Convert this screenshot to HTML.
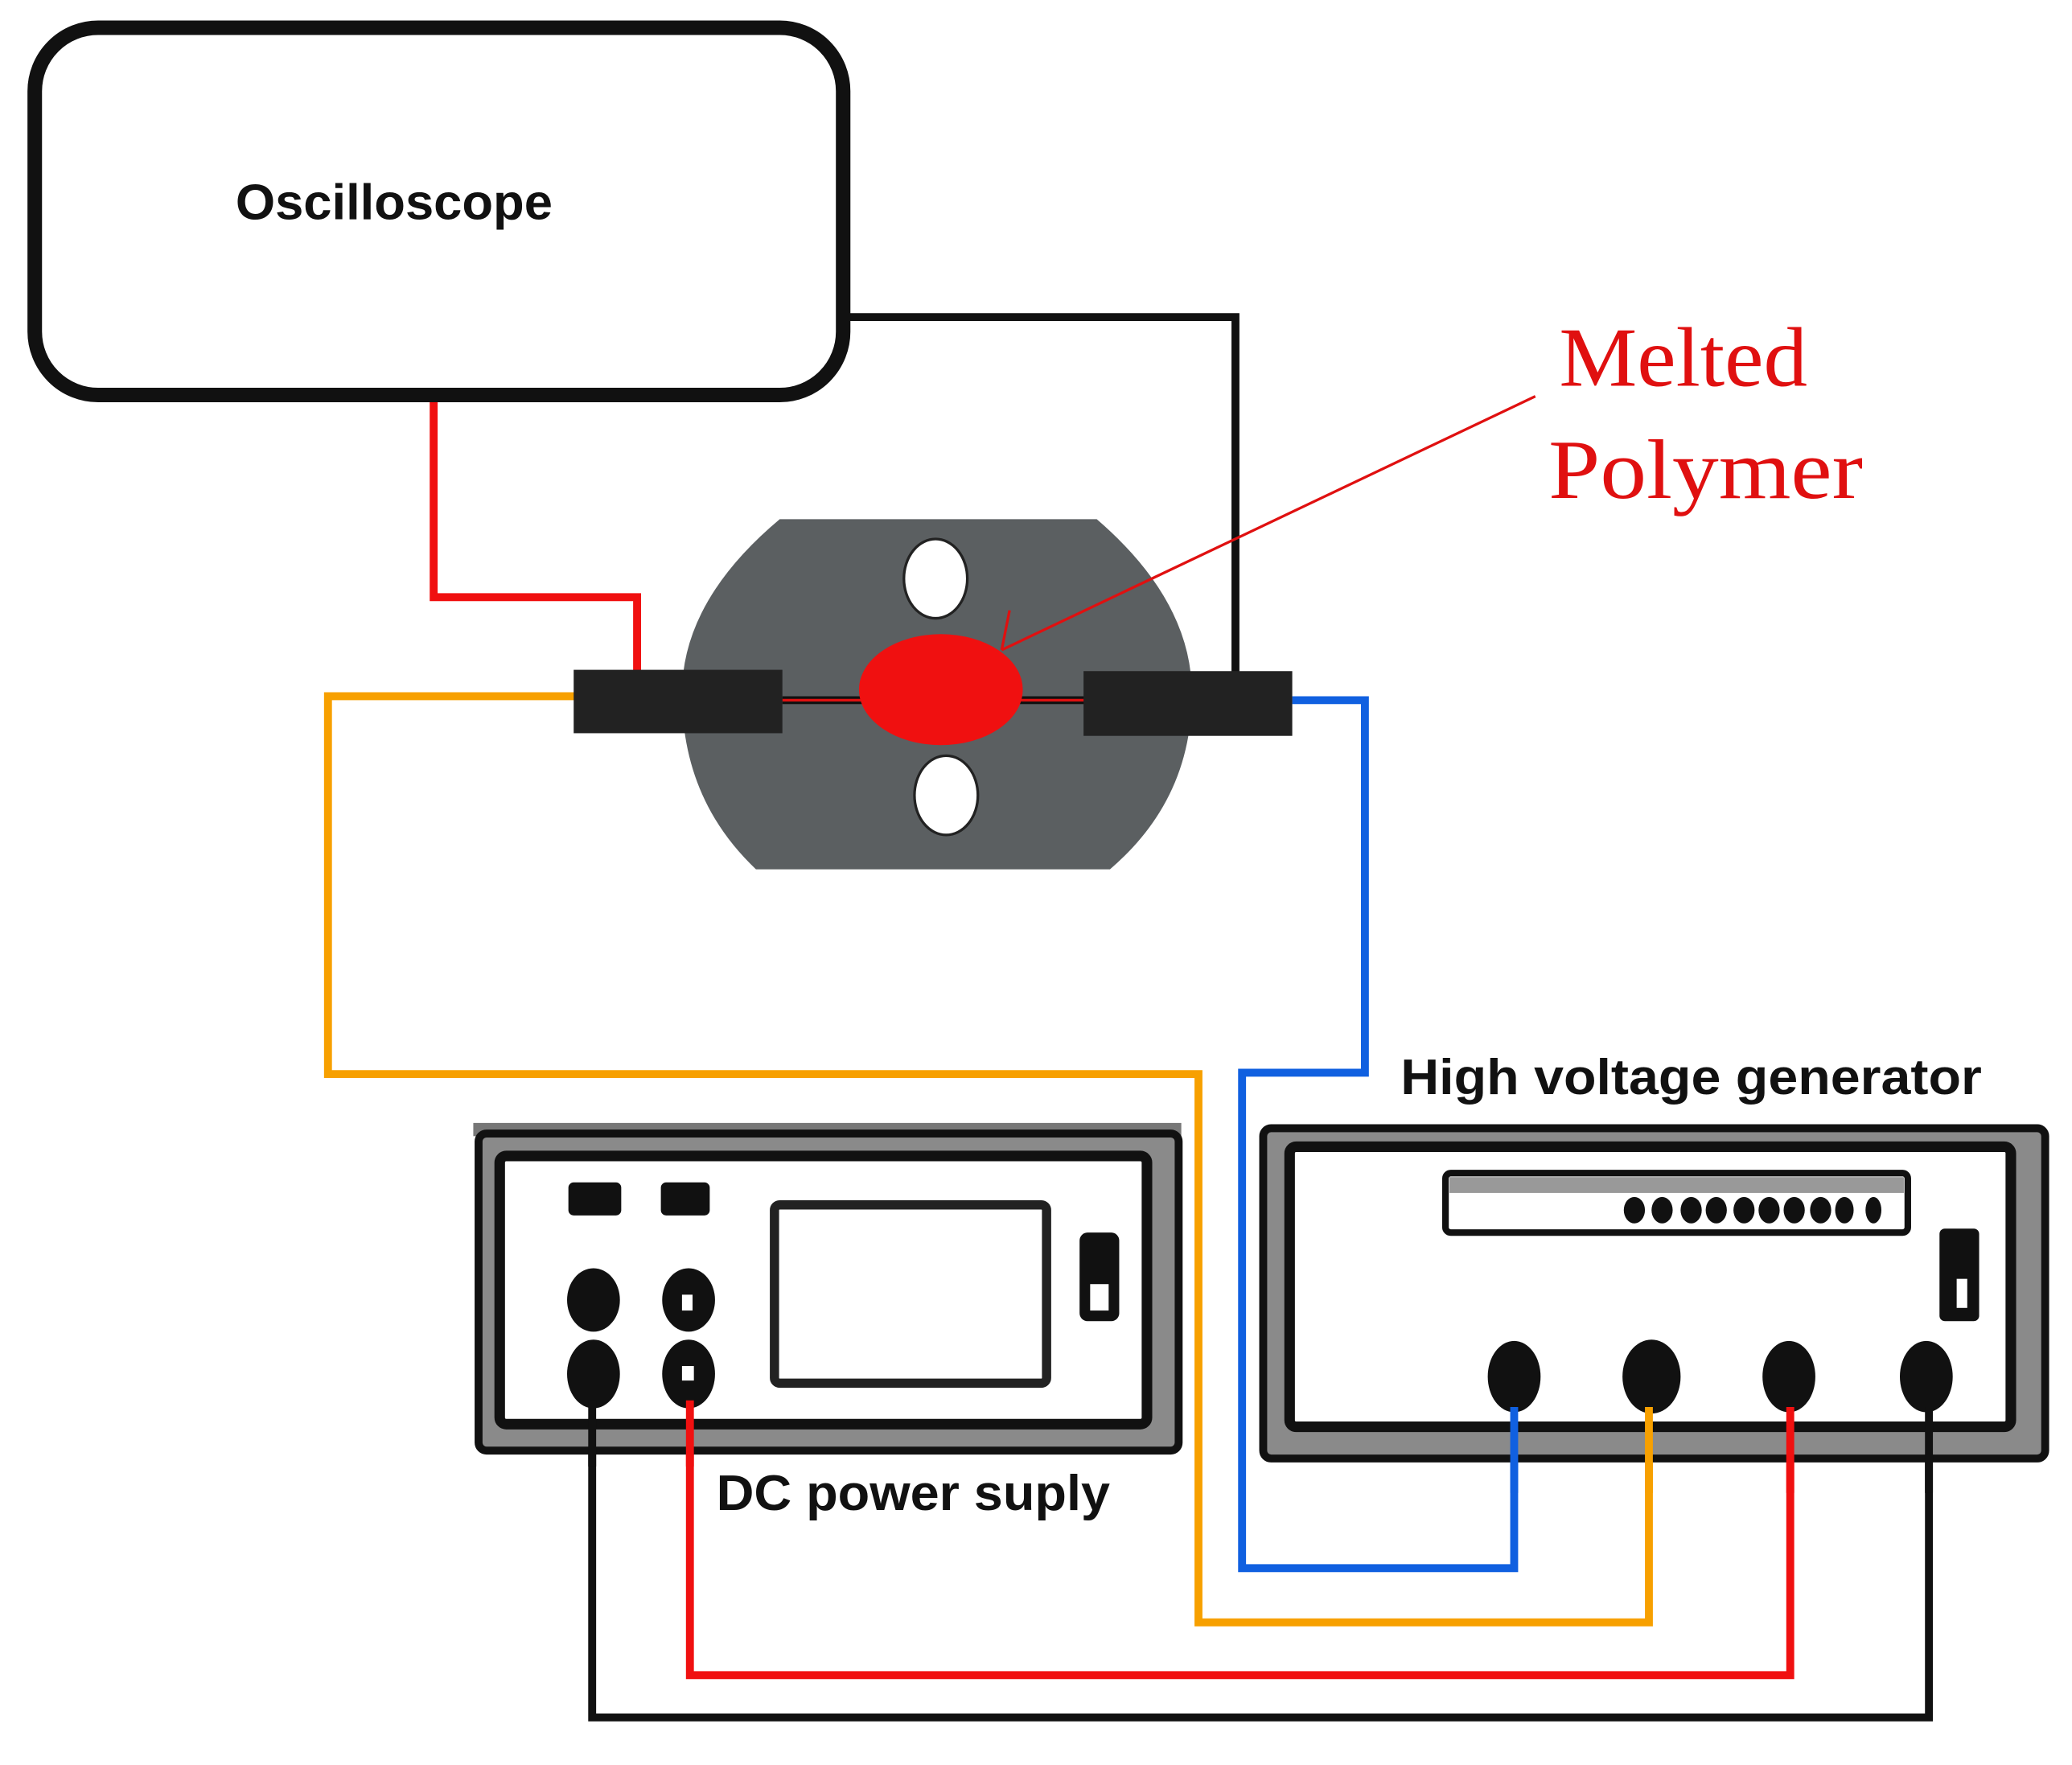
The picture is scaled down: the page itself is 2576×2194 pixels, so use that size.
<!DOCTYPE html>
<html><head><style>html,body{margin:0;padding:0;background:#fff}svg{display:block}</style></head>
<body>
<svg width="2576" height="2194" viewBox="0 0 1568 1336" xmlns="http://www.w3.org/2000/svg">
<rect width="1568" height="1336" fill="#fff"/>
<g fill="none" stroke-width="6" stroke-linejoin="miter">
<polyline points="640,240 935,240 935,512" stroke="#111"/>
<polyline points="328,300 328,452 482,452 482,510" stroke="#f01010"/>
<polyline points="436,527 248,527 248,813 907,813 907,1228 1248,1228 1248,1068" stroke="#f7a000"/>
<polyline points="978,530 1033,530 1033,812 940,812 940,1187 1146,1187 1146,1068" stroke="#1060e0"/>
<polyline points="522,1065 522,1268 1355,1268 1355,1068" stroke="#f01010"/>
<polyline points="448,1060 448,1300 1460,1300 1460,1068" stroke="#111"/>
</g>
<rect x="26" y="21" width="612" height="278" rx="48" fill="#fff" stroke="#111" stroke-width="11"/>
<text x="178" y="166" textLength="240" lengthAdjust="spacingAndGlyphs" font-family="Liberation Sans, sans-serif" font-weight="bold" font-size="38" fill="#111">Oscilloscope</text>
<path d="M590 393 L830 393 Q902 455 902 525 Q902 605 840 658 L572 658 Q516 605 516 525 Q516 455 590 393 Z" fill="#5b5f61"/>
<ellipse cx="708" cy="438" rx="24" ry="30" fill="#fff" stroke="#222" stroke-width="2"/>
<ellipse cx="716" cy="602" rx="24" ry="30" fill="#fff" stroke="#222" stroke-width="2"/>
<line x1="592" y1="530" x2="822" y2="530" stroke="#111" stroke-width="6"/>
<line x1="592" y1="530" x2="822" y2="530" stroke="#e01010" stroke-width="2"/>
<rect x="434" y="507" width="158" height="48" fill="#222"/>
<rect x="820" y="508" width="158" height="49" fill="#222"/>
<ellipse cx="712" cy="522" rx="62" ry="42" fill="#f01010"/>
<line x1="1162" y1="300" x2="758" y2="492" stroke="#e01010" stroke-width="2"/>
<line x1="764" y1="462" x2="758" y2="492" stroke="#e01010" stroke-width="2"/>
<text x="1180" y="292" textLength="188" lengthAdjust="spacingAndGlyphs" font-family="Liberation Serif, serif" font-size="64" fill="#e01010">Melted</text>
<text x="1172" y="377" textLength="238" lengthAdjust="spacingAndGlyphs" font-family="Liberation Serif, serif" font-size="64" fill="#e01010">Polymer</text>
<rect x="358" y="850" width="536" height="10" fill="#777"/>
<rect x="362" y="858" width="530" height="240" rx="6" fill="#8a8a8a" stroke="#111" stroke-width="6"/>
<rect x="378" y="875" width="490" height="203" rx="5" fill="#fff" stroke="#111" stroke-width="8"/>
<rect x="430" y="895" width="40" height="25" rx="4" fill="#111"/>
<rect x="500" y="895" width="37" height="25" rx="4" fill="#111"/>
<rect x="586" y="912" width="206" height="135" rx="4" fill="#fff" stroke="#222" stroke-width="7"/>
<rect x="817" y="933" width="30" height="67" rx="6" fill="#111"/>
<rect x="825" y="972" width="14" height="20" fill="#fff"/>
<ellipse cx="449" cy="984" rx="20" ry="24" fill="#111"/>
<ellipse cx="521" cy="984" rx="20" ry="24" fill="#111"/>
<ellipse cx="449" cy="1040" rx="20" ry="26" fill="#111"/>
<ellipse cx="521" cy="1040" rx="20" ry="26" fill="#111"/>
<rect x="516" y="1034" width="9" height="11" fill="#fff"/>
<rect x="516" y="980" width="8" height="12" fill="#fff"/>
<line x1="448" y1="1060" x2="448" y2="1110" stroke="#111" stroke-width="6"/>
<line x1="522" y1="1060" x2="522" y2="1110" stroke="#f01010" stroke-width="6"/>
<text x="542" y="1143" textLength="298" lengthAdjust="spacingAndGlyphs" font-family="Liberation Sans, sans-serif" font-weight="bold" font-size="38" fill="#111">DC power suply</text>
<rect x="956" y="854" width="592" height="250" rx="6" fill="#8a8a8a" stroke="#111" stroke-width="6"/>
<rect x="976" y="868" width="546" height="212" rx="5" fill="#fff" stroke="#111" stroke-width="8"/>
<rect x="1094" y="888" width="350" height="45" rx="4" fill="#fff" stroke="#111" stroke-width="5"/>
<rect x="1097" y="891" width="344" height="12" fill="#999"/>
<g fill="#111">
<ellipse cx="1237" cy="916" rx="8" ry="10"/><ellipse cx="1258" cy="916" rx="8" ry="10"/>
<ellipse cx="1280" cy="916" rx="8" ry="10"/><ellipse cx="1299" cy="916" rx="8" ry="10"/>
<ellipse cx="1320" cy="916" rx="8" ry="10"/><ellipse cx="1339" cy="916" rx="8" ry="10"/>
<ellipse cx="1358" cy="916" rx="8" ry="10"/><ellipse cx="1378" cy="916" rx="8" ry="10"/>
<ellipse cx="1396" cy="916" rx="7" ry="10"/><ellipse cx="1418" cy="916" rx="6" ry="10"/>
<rect x="1468" y="930" width="30" height="70" rx="4"/>
<ellipse cx="1146" cy="1042" rx="20" ry="27"/><ellipse cx="1250" cy="1042" rx="22" ry="28"/>
<ellipse cx="1354" cy="1042" rx="20" ry="27"/><ellipse cx="1458" cy="1042" rx="20" ry="27"/>
</g>
<rect x="1481" y="968" width="8" height="22" fill="#fff"/>
<line x1="1146" y1="1065" x2="1146" y2="1130" stroke="#1060e0" stroke-width="6"/>
<line x1="1248" y1="1065" x2="1248" y2="1130" stroke="#f7a000" stroke-width="6"/>
<line x1="1355" y1="1065" x2="1355" y2="1130" stroke="#f01010" stroke-width="6"/>
<line x1="1460" y1="1065" x2="1460" y2="1130" stroke="#111" stroke-width="6"/>
<text x="1060" y="828" textLength="440" lengthAdjust="spacingAndGlyphs" font-family="Liberation Sans, sans-serif" font-weight="bold" font-size="38" fill="#111">High voltage generator</text>
</svg>
</body></html>
